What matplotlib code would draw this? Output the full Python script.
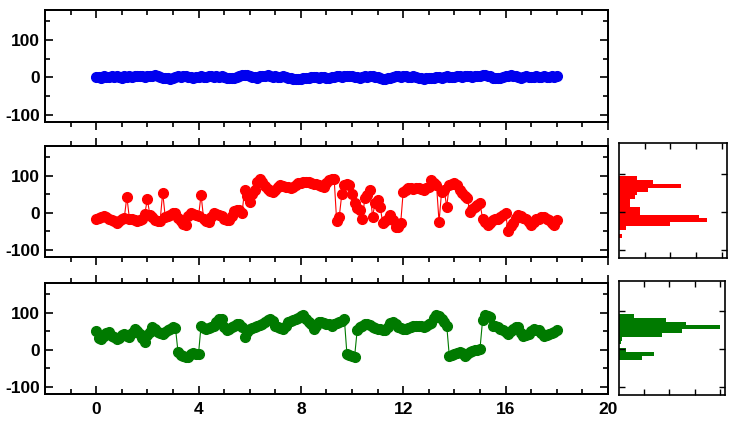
import matplotlib.pyplot as plt
import numpy as np

plt.rcParams['font.family'] = ['Liberation Sans', 'DejaVu Sans']
plt.rcParams['font.weight'] = 'bold'
plt.rcParams['axes.unicode_minus'] = False

dt = 0.1   # sampling step of the traces

blue = [0,
        1, -1, 2, 0, 1, 3, 0, 2, 1, -1,
        2, 0, 3, 1, 2, 4, 2, 3, 1, 2,
        4, 3, 5, 2, 1, -1, -2, -3, -4, -2,
        0, 2, 1, 3, 2, 0, 1, -1, 0, 1,
        2, 0, 1, 3, 2, 1, 3, 0, 2, 1,
        -1, -2, -3, -1, 1, 3, 5, 7, 6, 3,
        1, 0, -1, 2, 4, 3, 5, 2, 1, 3,
        1, 0, 2, 1, -2, -3, -4, -6, -5, -4,
        -3, -2, -1, 0, 1, 0, -1, 1, 0, -2,
        -1, 0, 1, 2, 3, 1, 2, 4, 3, 2,
        0, 1, -1, 0, 2, 1, 3, 2, 1, 0,
        -2, -4, -5, -3, -1, 1, 3, 2, 1, 2,
        3, 1, 0, 2, 1, -1, -2, -4, -3, -2,
        -3, -1, 0, 1, -1, 0, 2, 1, 0, 1,
        2, 3, 1, 2, 4, 3, 1, 2, 4, 3,
        5, 6, 4, 2, -1, -3, -2, -1, 1, 2,
        4, 5, 3, 2, 0, -1, 0, 2, 1, 0,
        1, 2, 0, 1, 2, 1, 0, 2, 1, 2]

red = [-18,
       -15, -12, -10, -12, -17, -20, -24, -28, -22, -16,
       -14, 43, -16, -18, -20, -24, -20, -16, -4, 36,
       -6, -12, -20, -24, -22, 54, -11, -8, -6, -2,
       0, -14, -22, -30, -33, -10, -2, -4, -6, -10,
       48, -16, -22, -25, -12, -2, -4, -6, -10, -16,
       -20, -20, -8, 5, 8, 6, -2, 61, 45, 28,
       50, 62, 82, 90, 82, 72, 64, 58, 57, 62,
       70, 75, 73, 70, 68, 66, 70, 74, 79, 80,
       82, 84, 82, 80, 78, 76, 75, 72, 70, 80,
       88, 90, 92, -24, -11, 50, 75, 76, 75, 50,
       25, 12, 7, -18, 39, 48, 61, -11, 25, 34,
       16, -29, -22, -16, -6, -20, -38, -38, -29, 57,
       62, 66, 66, 65, 66, 66, 63, 61, 66, 70,
       88, 80, 75, -25, 57, 61, 16, 75, 77, 79,
       75, 60, 52, 44, 39, 3, 10, 16, 20, 25,
       -16, -25, -33, -28, -20, -18, -16, -12, -6, -2,
       -51, -35, -29, -15, -6, -10, -14, -16, -25, -33,
       -25, -18, -16, -12, -11, -16, -20, -28, -33, -20]

green = [50,
         30, 28, 38, 45, 48, 38, 34, 29, 30, 40,
         43, 36, 34, 45, 56, 50, 43, 30, 20, 40,
         48, 61, 55, 47, 44, 43, 48, 52, 56, 61,
         58, -7, -15, -18, -21, -19, -12, -10, -12, -12,
         65, 58, 56, 58, 61, 65, 75, 82, 84, 60,
         52, 55, 61, 65, 68, 70, 60, 34, 48, 56,
         58, 61, 64, 67, 70, 74, 80, 84, 76, 65,
         60, 57, 56, 65, 75, 78, 80, 84, 86, 90,
         93, 84, 75, 68, 56, 65, 75, 74, 72, 70,
         68, 65, 68, 72, 75, 78, 82, -12, -15, -17,
         -19, 52, 60, 65, 68, 70, 66, 61, 58, 56,
         56, 54, 52, 62, 72, 75, 68, 61, 58, 56,
         56, 58, 61, 63, 65, 65, 63, 61, 64, 68,
         72, 85, 93, 90, 84, 75, 65, -17, -14, -12,
         -10, -7, -10, -17, -12, -7, -5, -2, 0, 2,
         79, 93, 92, 88, 65, 63, 61, 56, 52, 48,
         43, 50, 56, 62, 60, 45, 38, 40, 43, 50,
         56, 54, 52, 45, 38, 40, 43, 45, 47, 52]

# histograms of the two lower traces (bin edges, counts per bin)
red_edges = [-67, -57, -47, -37, -27, -17, -7, 3, 13, 23, 33, 43, 53, 63, 73, 83, 93]
red_counts = [1.0, 0, 2.8, 19.9, 34.2, 31.0, 8.3, 8.3, 4.1, 4.1, 6.2, 7.0, 11.3, 24.1, 13.1, 7.0]
green_edges = [-27, -17, -7, 3, 13, 23, 33, 43, 53, 63, 73, 83, 93]
green_counts = [9.1, 13.9, 2.9, 0, 0.8, 1.2, 16.9, 24.9, 40.2, 26.6, 18.5, 5.8]

t = np.arange(len(blue)) * dt

fig = plt.figure(figsize=(7.3, 4.23), dpi=100)
ax1 = fig.add_axes([0.0616, 0.7116, 0.7712, 0.2648])
ax2 = fig.add_axes([0.0616, 0.3924, 0.7712, 0.2624])
ax3 = fig.add_axes([0.0616, 0.0686, 0.7712, 0.2624])
h2 = fig.add_axes([0.8479, 0.3901, 0.1479, 0.2719])
h3 = fig.add_axes([0.8479, 0.0662, 0.1452, 0.2695])


def setup_main(ax, top_dir, bottom_dir, xlabels):
    ax.set_xlim(-2, 20)
    ax.set_ylim(-120, 180)
    ax.set_yticks([-100, 0, 100])
    ax.set_yticks([-50, 50, 150], minor=True)
    ax.set_xticks(range(0, 21, 4))
    ax.set_xticks(range(-1, 21), minor=True)
    ax.tick_params(axis='y', which='both', direction='in', left=True, right=True,
                   labelsize=12.5, width=1.2)
    ax.tick_params(axis='x', which='both', direction=bottom_dir, labelbottom=xlabels,
                   labelsize=12.5, width=1.2, pad=6)
    ax.tick_params(which='major', length=6)
    ax.tick_params(which='minor', length=3.5)
    top = ax.twiny()
    top.set_xlim(-2, 20)
    top.set_xticks(range(0, 21, 4))
    top.set_xticks(range(-1, 21), minor=True)
    top.tick_params(axis='x', which='both', direction=top_dir, labeltop=False, width=1.2)
    top.tick_params(which='major', length=6)
    top.tick_params(which='minor', length=3.5)
    for a in (ax, top):
        for s in a.spines.values():
            s.set_linewidth(1.3)


def setup_hist(ax):
    ax.set_xlim(0, 42)
    ax.set_ylim(-120, 180)
    ax.set_yticks([-100, 0, 100])
    ax.set_xticks([10, 20, 30, 40])
    ax.tick_params(which='both', direction='in', left=True, right=True, top=True,
                   bottom=True, labelleft=False, labelbottom=False, length=4, width=1)
    for s in ax.spines.values():
        s.set_linewidth(1.2)


ax1.plot(t, blue, '-', color='#0000ee', lw=0.8, marker='o', ms=7, mec='#0000ee')
ax2.plot(t, red, '-', color='#ff0000', lw=0.8, marker='o', ms=7, mec='#ff0000')
ax3.plot(t, green, '-', color='#007a00', lw=0.8, marker='o', ms=7, mec='#007a00')

setup_main(ax1, 'in', 'out', False)
setup_main(ax2, 'out', 'out', False)
setup_main(ax3, 'out', 'in', True)

h2.barh(red_edges[:-1], red_counts, height=np.diff(red_edges), align='edge',
        color='#ff0000', edgecolor='none')
h3.barh(green_edges[:-1], green_counts, height=np.diff(green_edges), align='edge',
        color='#007a00', edgecolor='none')
setup_hist(h2)
setup_hist(h3)

plt.savefig('out.png')
